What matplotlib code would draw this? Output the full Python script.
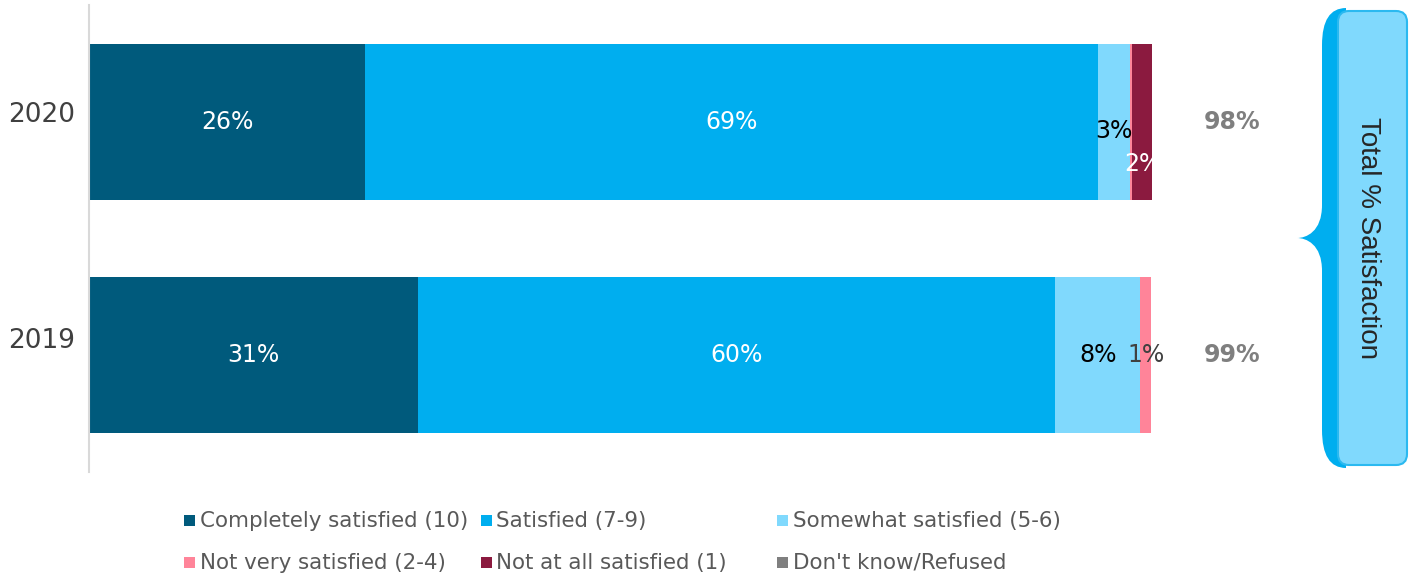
import numpy as np
import matplotlib
matplotlib.use("Agg")
import matplotlib.pyplot as plt
from matplotlib.patches import PathPatch, FancyBboxPatch, Rectangle
from matplotlib.path import Path

# datos de satisfacción por año
anios = ['2019', '2020']
categorias = ['Completely satisfied (10)', 'Satisfied (7-9)', 'Somewhat satisfied (5-6)',
              'Not very satisfied (2-4)', 'Not at all satisfied (1)', "Don't know/Refused"]
colores = ['#005A7C', '#00AEEF', '#80D9FD', '#FF8499', '#8B1A3F', '#7F7F7F']
valores = {
    'Completely satisfied (10)': [31, 26],
    'Satisfied (7-9)': [60, 69],
    'Somewhat satisfied (5-6)': [8, 3],
    'Not very satisfied (2-4)': [1, 0.2],
    'Not at all satisfied (1)': [0, 2],
    "Don't know/Refused": [0, 0],
}
# color del texto de cada etiqueta
color_etiqueta = ['white', 'white', 'black', '#404040', 'white', 'white']

W, H = 1410, 575
fig = plt.figure(figsize=(W / 100, H / 100), dpi=100)
ax = fig.add_axes([89 / W, 1 - 472 / H, 1063 / W, 467 / H])

y = np.arange(len(anios))
izq = np.zeros(len(anios))
for cat, col, ctxt in zip(categorias, colores, color_etiqueta):
    v = np.array(valores[cat], dtype=float)
    ax.barh(y, v, left=izq, height=0.668, color=col, edgecolor='none')
    for i in range(len(anios)):
        if v[i] >= 1:
            dy = 0
            if cat == 'Somewhat satisfied (5-6)' and v[i] < 5:
                dy = -0.04
            if cat == 'Not at all satisfied (1)':
                dy = -0.18
            ax.text(izq[i] + v[i] / 2, y[i] + dy, f'{v[i]:.0f}%', ha='center', va='center',
                    color=ctxt, fontsize=17)
    izq += v

# total de satisfechos (10 + 7-9 + 5-6)
total = np.array(valores['Completely satisfied (10)']) + np.array(valores['Satisfied (7-9)']) + \
    np.array(valores['Somewhat satisfied (5-6)'])
for i in range(len(anios)):
    ax.text(107.6, y[i], f'{total[i]:.0f}%', ha='center', va='center', color='#7F7F7F',
            fontsize=17, fontweight='bold', clip_on=False)

ax.set_xlim(0, 100.1)
ax.set_ylim(-0.5, 1.5)
# las etiquetas de año van algo por encima del centro de la barra
ax.set_yticks(y + np.array([0.075, 0.04]))
ax.set_yticklabels(anios, fontsize=19, color='#404040')
ax.tick_params(axis='y', length=0, pad=10)
ax.set_xticks([])
for s in ['top', 'right', 'bottom']:
    ax.spines[s].set_visible(False)
ax.spines['left'].set_color('#D9D9D9')
ax.spines['left'].set_linewidth(1.5)

# capa en pixeles para la llave y la leyenda
capa = fig.add_axes([0, 0, 1, 1])
capa.set_xlim(0, W)
capa.set_ylim(H, 0)
capa.axis('off')
capa.patch.set_alpha(0)

verts = [(1346, 8), (1322, 8), (1322, 45), (1322, 45),
         (1322, 205), (1322, 232), (1306, 238), (1297, 238),
         (1306, 238), (1322, 244), (1322, 271), (1322, 271),
         (1322, 430), (1322, 468), (1346, 468), (1346, 468),
         (1346, 8), (1346, 8)]
codes = [Path.MOVETO, Path.CURVE3, Path.CURVE3, Path.LINETO,
         Path.LINETO, Path.CURVE4, Path.CURVE4, Path.CURVE4,
         Path.CURVE4, Path.CURVE4, Path.CURVE4, Path.LINETO,
         Path.LINETO, Path.CURVE3, Path.CURVE3, Path.LINETO,
         Path.LINETO, Path.CLOSEPOLY]
capa.add_patch(PathPatch(Path(verts, codes), fc='#00AEEF', ec='none'))
capa.add_patch(FancyBboxPatch((1338, 11), 69, 454, boxstyle='round,pad=0,rounding_size=11',
                              fc='#80D9FD', ec='#2BB9F0', lw=1.5))
capa.text(1368, 238, 'Total % Satisfaction', rotation=270, ha='center', va='center',
          fontsize=20, color='#262626', family='Liberation Sans')

# leyenda en tres columnas
for k, (cat, col) in enumerate(zip(categorias, colores)):
    x0 = 184 + 296.5 * (k % 3)
    y0 = 521 + 42 * (k // 3)
    capa.add_patch(Rectangle((x0, y0 - 6), 11, 11, fc=col, ec='none'))
    capa.text(x0 + 16, y0, cat, ha='left', va='center', fontsize=15.4, color='#595959')

fig.savefig('out.png', dpi=100)
